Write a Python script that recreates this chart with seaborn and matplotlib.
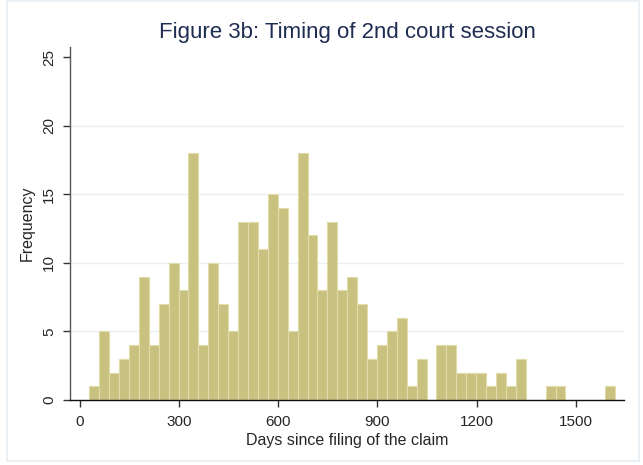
import numpy as np
import pandas as pd
import matplotlib
matplotlib.use('Agg')
import matplotlib.pyplot as plt
import seaborn as sns
from matplotlib.patches import Rectangle

# histogram: 30-day bins starting at day 29
bin_start = 29
bin_width = 30
counts = [1, 5, 2, 3, 4, 9, 4, 7, 10, 8,
          18, 4, 10, 7, 5, 13, 13, 11, 15, 14,
          5, 18, 12, 8, 13, 8, 9, 7, 3, 4,
          5, 6, 1, 3, 0, 4, 4, 2, 2, 2,
          1, 2, 1, 3, 0, 0, 1, 1, 0, 0,
          0, 0, 1]
x_ticks = [0, 300, 600, 900, 1200, 1500]
y_ticks = [0, 5, 10, 15, 20, 25]

bin_end = bin_start + bin_width * len(counts)
hist = pd.DataFrame({'days': bin_start + bin_width * (np.arange(len(counts)) + 0.5),
                     'n': counts})

sns.set_style('white')
plt.rcParams['font.family'] = ['Liberation Sans', 'DejaVu Sans']

fig = plt.figure(figsize=(6.43, 4.65), dpi=100)
ax = fig.add_axes([0.1089, 0.1398, 0.8616, 0.7591])

# light frame around the whole graph
fig.patches.append(Rectangle((0.0109, 0.0086), 0.983, 0.989, transform=fig.transFigure,
                             fill=False, edgecolor='#e6edf1', linewidth=1.2))

for y in y_ticks[1:-1]:
    ax.axhline(y, color='#e8f0f2', linewidth=1, zorder=0)

sns.histplot(data=hist, x='days', weights='n', binwidth=bin_width,
             binrange=(bin_start, bin_end), ax=ax,
             color='#c9c17f', edgecolor='#e2dcaa', linewidth=0.8, alpha=1, zorder=2)

ax.set_xlim(-29, 1646)
ax.set_ylim(0, 25.75)
ax.set_xticks(x_ticks)
ax.set_yticks(y_ticks)
ax.set_xticklabels([str(t) for t in x_ticks], fontsize=11)
ax.set_yticklabels([str(t) for t in y_ticks], fontsize=11, rotation=90, va='center')
ax.tick_params(axis='both', direction='out', length=5, width=1, color='#333333',
               bottom=True, left=True)
ax.tick_params(axis='x', pad=6)
ax.tick_params(axis='y', pad=5)
ax.set_xlabel('Days since filing of the claim', fontsize=11.5, labelpad=3)
ax.set_ylabel('Frequency', fontsize=11.5, labelpad=5)
sns.despine(ax=ax)
ax.spines['left'].set_color('#555555')
ax.spines['bottom'].set_color('#111111')
ax.spines['left'].set_linewidth(1)
ax.spines['bottom'].set_linewidth(1)

fig.text(0.54, 0.93, 'Figure 3b: Timing of 2nd court session', ha='center', va='center',
         fontsize=16, color='#1f2d52')

plt.savefig('out.png', dpi=100)
